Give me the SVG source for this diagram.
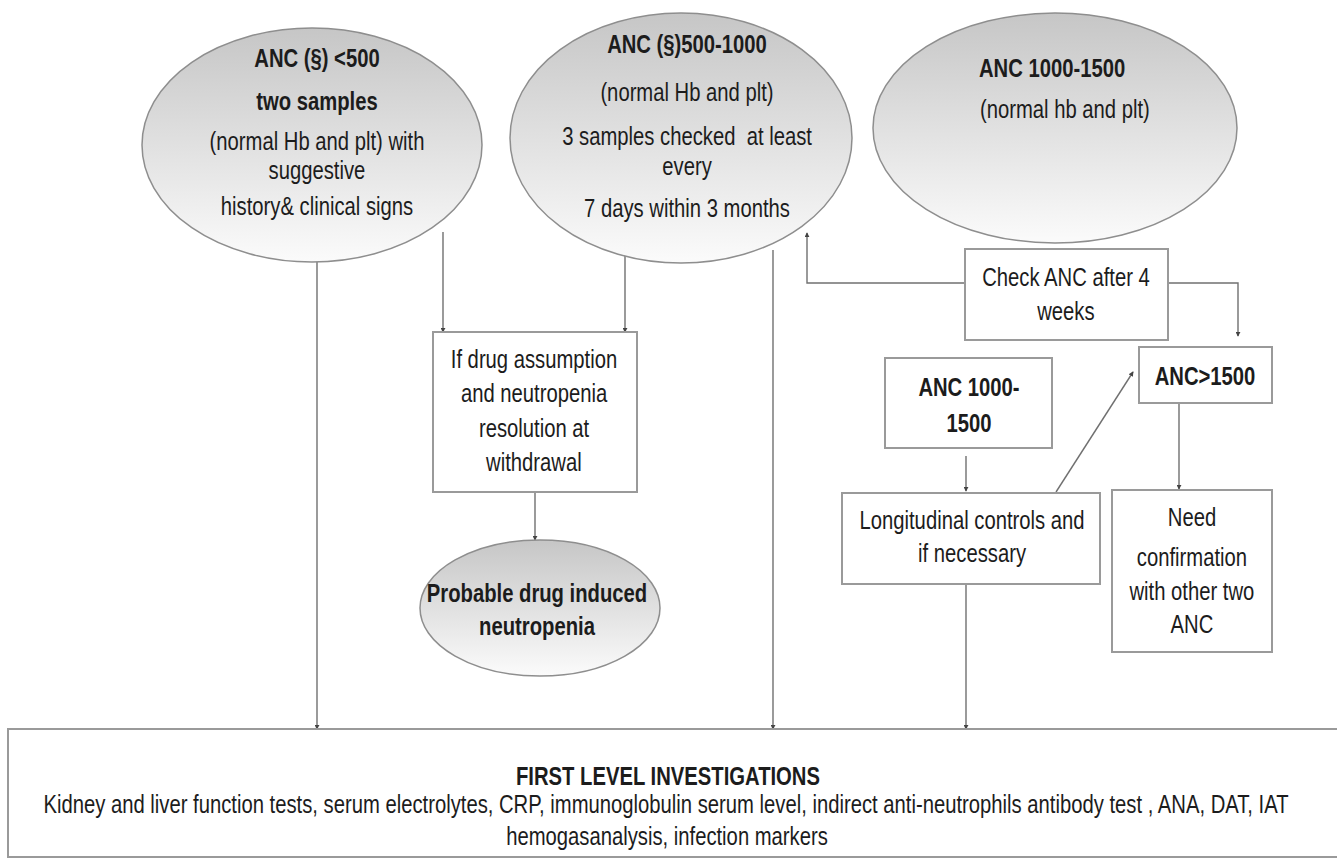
<svg xmlns="http://www.w3.org/2000/svg" width="1337" height="860" viewBox="0 0 1337 860">
<style>
  text { font-family: "Liberation Sans Narrow", "Liberation Sans", Arial, sans-serif; font-size: 25px; fill: #1c1c1c; text-anchor: middle; transform-box: fill-box; transform-origin: center; transform: scaleX(0.81); }
  .b { font-weight: bold; }
  .st { text-anchor: start; transform-origin: left center; }
  .ell { stroke: #8e8e8e; stroke-width: 1.5; fill: url(#g); }
  .box { fill: #ffffff; stroke: #9a9a9a; stroke-width: 2; }
  .con { fill: none; stroke: #707070; stroke-width: 1.4; marker-end: url(#arr); }
</style>
<defs>
  <linearGradient id="g" x1="0" y1="0" x2="0" y2="1">
    <stop offset="0" stop-color="#c6c6c6"/>
    <stop offset="1" stop-color="#fbfbfb"/>
  </linearGradient>
  <marker id="arr" viewBox="0 0 6 6" refX="5" refY="3" markerWidth="5" markerHeight="5" markerUnits="userSpaceOnUse" orient="auto">
    <path d="M0,0 L6,3 L0,6 z" fill="#444"/>
  </marker>
</defs>
<rect width="1337" height="860" fill="#ffffff"/>

<g id="connectors">
  <path class="con" d="M317,262 V729"/>
  <path class="con" d="M443,232 V332"/>
  <path class="con" d="M625,253 V332"/>
  <path class="con" d="M535,475 V540"/>
  <path class="con" d="M773,250 V729"/>
  <path class="con" d="M965,283 H807 V233"/>
  <path class="con" d="M1168,283 H1238 V336"/>
  <path class="con" d="M966,456 V491"/>
  <path class="con" d="M1056,492 L1133,372"/>
  <path class="con" d="M1179,403 V489"/>
  <path class="con" d="M966,577 V729"/>
</g>

<g id="node-anc500">
  <ellipse class="ell" cx="312" cy="145" rx="170" ry="117"/>
  <text class="b" x="317" y="67">ANC (§) &lt;500</text>
  <text class="b" x="317" y="110">two samples</text>
  <text x="317" y="150">(normal Hb and plt) with</text>
  <text x="317" y="179">suggestive</text>
  <text x="317" y="215">history&amp; clinical signs</text>
</g>

<g id="node-anc500-1000">
  <ellipse class="ell" cx="681" cy="138" rx="171" ry="125"/>
  <text class="b" x="687" y="53">ANC (§)500-1000</text>
  <text x="687" y="101">(normal Hb and plt)</text>
  <text x="687" y="145" xml:space="preserve">3 samples checked  at least</text>
  <text x="687" y="175">every</text>
  <text x="687" y="217">7 days within 3 months</text>
</g>

<g id="node-anc1000-1500">
  <ellipse class="ell" cx="1055" cy="128" rx="182" ry="115"/>
  <text class="b st" x="979" y="77">ANC 1000-1500</text>
  <text class="st" x="980" y="118">(normal hb and plt)</text>
</g>

<g id="node-drug">
  <rect class="box" x="433" y="332" width="204" height="160"/>
  <text x="534" y="368">If drug assumption</text>
  <text x="534" y="402">and neutropenia</text>
  <text x="534" y="437">resolution at</text>
  <text x="534" y="471">withdrawal</text>
</g>

<g id="node-probable">
  <ellipse class="ell" cx="540" cy="608" rx="120" ry="68"/>
  <text class="b" x="537" y="602">Probable drug induced</text>
  <text class="b" x="537" y="635">neutropenia</text>
</g>

<g id="node-check">
  <rect class="box" x="965" y="249" width="203" height="91"/>
  <text x="1066" y="286">Check ANC after 4</text>
  <text x="1066" y="320">weeks</text>
</g>

<g id="node-box1000">
  <rect class="box" x="885" y="358" width="167" height="90"/>
  <text class="b" x="969" y="396">ANC 1000-</text>
  <text class="b" x="969" y="432">1500</text>
</g>

<g id="node-gt1500">
  <rect class="box" x="1139" y="347" width="133" height="56"/>
  <text class="b" x="1205" y="385">ANC&gt;1500</text>
</g>

<g id="node-longitudinal">
  <rect class="box" x="842" y="493" width="258" height="91"/>
  <text x="972" y="529">Longitudinal controls and</text>
  <text x="972" y="562">if necessary</text>
</g>

<g id="node-need">
  <rect class="box" x="1112" y="490" width="160" height="162"/>
  <text x="1192" y="526">Need</text>
  <text x="1192" y="566">confirmation</text>
  <text x="1192" y="600">with other two</text>
  <text x="1192" y="633">ANC</text>
</g>

<g id="node-first-level">
  <rect class="box" x="8" y="729" width="1340" height="128"/>
  <text class="b" x="668" y="785">FIRST LEVEL INVESTIGATIONS</text>
  <text x="666" y="813">Kidney and liver function tests, serum electrolytes, CRP, immunoglobulin serum level, indirect anti-neutrophils antibody test , ANA, DAT, IAT</text>
  <text x="667" y="845">hemogasanalysis, infection markers</text>
</g>
</svg>
